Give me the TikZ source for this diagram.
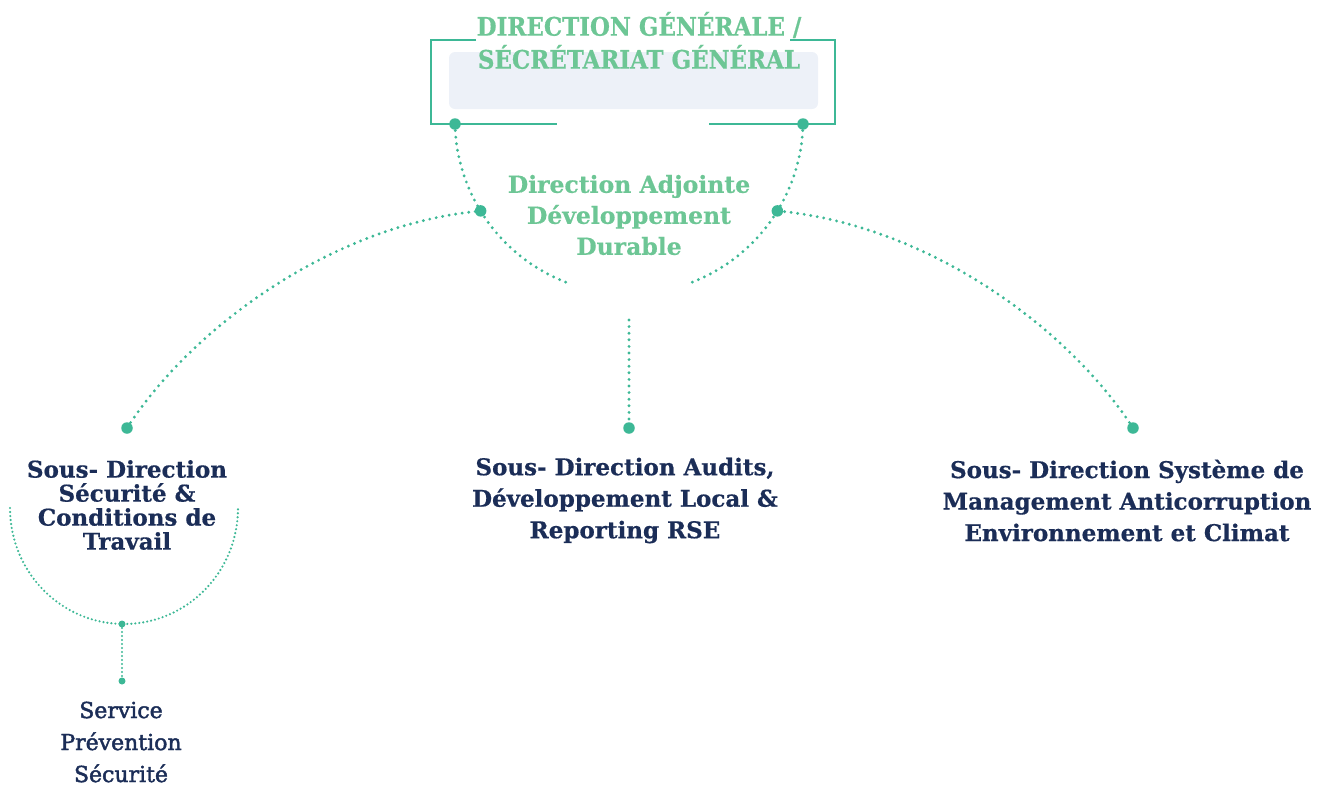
\documentclass[tikz,border=0pt]{standalone}
\usepackage{fontspec}
\setmainfont{DejaVu Serif}[BoldFeatures={FakeBold=0.6}]
\newfontfamily\headfont{DejaVu Serif Condensed}[BoldFeatures={FakeBold=0.6}]
\newfontfamily\medfont{DejaVu Serif}[FakeBold=2]
\definecolor{lgreen}{HTML}{3DB896}
\definecolor{tgreen}{HTML}{6DC695}
\definecolor{navy}{HTML}{1B2D57}
\definecolor{boxfill}{HTML}{EDF1F8}
\begin{document}
\begin{tikzpicture}[x=1pt,y=-1pt,
  gline/.style={draw=lgreen,line width=2.4pt},
  dotline/.style={draw=lgreen,line width=3.2pt,line cap=round,dash pattern=on 0pt off 6.6pt},
  thindot/.style={draw=lgreen,line width=2.4pt,line cap=round,dash pattern=on 0pt off 4pt},
  bigdot/.style={circle,fill=lgreen,inner sep=0pt,minimum size=11.5pt},
  smalldot/.style={circle,fill=lgreen,inner sep=0pt,minimum size=7pt},
  navytxt/.style={text=navy,font=\bfseries\fontsize{23}{31.5}\selectfont,align=center,inner sep=0pt},
  greentxt/.style={text=tgreen,font=\bfseries\fontsize{23.5}{31}\selectfont,align=center,inner sep=0pt},
  titletxt/.style={text=tgreen,font=\headfont\bfseries\fontsize{25.5}{33}\selectfont,align=center,inner sep=0pt}]
\useasboundingbox (0,0) rectangle (1343,785);
% title box
\node[fill=boxfill,rounded corners=6pt,minimum width=369pt,minimum height=57pt,inner sep=0pt] (box) at (633.5,80.5) {};
\node[titletxt] (title) at (639,40.5) {DIRECTION GÉNÉRALE /\\SÉCRÉTARIAT GÉNÉRAL};
\coordinate (tl) at (476,40);
\coordinate (tr) at (790,40);
\node[bigdot] (dl) at (455,124) {};
\node[bigdot] (dr) at (803,124) {};
\draw[gline] (tl) -- (431,40) -- (431,124) -- (557,124);
\draw[gline] (tr) -- (835,40) -- (835,124) -- (709,124);
% adjoint arcs
\draw[dotline] (dl.center) arc[start angle=178.7,end angle=110.8,radius=174];
\draw[dotline] (dr.center) arc[start angle=1.3,end angle=69.2,radius=174];
\node[bigdot] (al) at ({629+174*cos(148.5)},{120+174*sin(148.5)}) {};
\node[bigdot] (ar) at ({629+174*cos(31.5)},{120+174*sin(31.5)}) {};
\node[greentxt] (adj) at (629,215) {Direction Adjointe\\Développement\\Durable};
% sub-direction dots
\node[bigdot] (s1) at (127,428) {};
\node[bigdot] (s2) at (629,428) {};
\node[bigdot] (s3) at (1133,428) {};
\coordinate (mtop) at (629,320);
\draw[dotline] (s1.center) .. controls (190,330) and (330,225) .. (al.center);
\draw[dotline] (s3.center) .. controls (1070,330) and (930,225) .. (ar.center);
\draw[dotline] (mtop) -- (s2.center);
% sub-direction texts
\node[navytxt,font=\bfseries\fontsize{23}{24}\selectfont] (t1) at (127,505) {Sous- Direction\\Sécurité \&\\Conditions de\\Travail};
\node[navytxt] (t2) at (625,500.5) {Sous- Direction Audits,\\Développement Local \&\\Reporting RSE};
\node[navytxt] (t3) at (1127,500.5) {Sous- Direction Système de\\Management Anticorruption\\Environnement et Climat};
% service branch
\coordinate (ua) at (10,508);
\node[smalldot] (ub) at (122,624) {};
\node[smalldot] (sv) at (122,681) {};
\draw[thindot] (ua) arc[start angle=180,end angle=0,x radius=114,y radius=116];
\draw[thindot] (ub.center) -- (sv.center);
\node[text=navy,font=\medfont\fontsize{22}{32}\selectfont,align=center,inner sep=0pt] (t4) at (121,742) {Service\\Prévention\\Sécurité};
\end{tikzpicture}
\end{document}
